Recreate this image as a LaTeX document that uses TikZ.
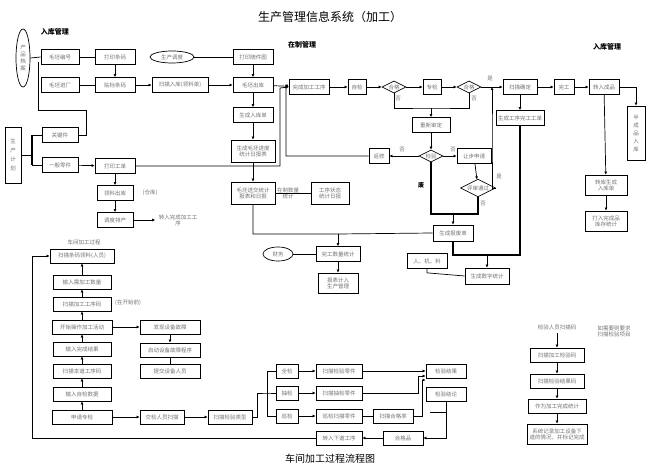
\documentclass[tikz,border=0pt]{standalone}
\usepackage{fontspec}
\setmainfont{Noto Sans CJK SC}
\usetikzlibrary{shapes.geometric,arrows.meta}
\begin{document}
\begin{tikzpicture}[x=1pt,y=-1pt,
 bx/.style={draw,line width=0.7pt,fill=white,font=\fontsize{5.5}{6}\selectfont,text=black!55,minimum height=15pt,inner sep=1pt,align=center},
 el/.style={draw,ellipse,line width=0.7pt,font=\fontsize{5.5}{6}\selectfont,text=black!55,inner sep=1pt,align=center},
 dm/.style={draw,diamond,aspect=2,line width=0.7pt,font=\fontsize{5.5}{6}\selectfont,text=black!55,inner sep=0.5pt},
 lb/.style={font=\fontsize{5.5}{6}\selectfont,text=black!55,align=center},
 hd/.style={font=\fontsize{7}{8}\selectfont\bfseries},
 ar/.style={draw,line width=0.7pt,-{Latex[length=3pt,width=3pt]}},
 ln/.style={draw,line width=0.7pt}]
\useasboundingbox (0,0) rectangle (657,470);
\node[font=\fontsize{12}{13}\selectfont] (title) at (330,17) {生产管理信息系统（加工）};
\node[hd] (h1) at (55,32) {入库管理};
\node[hd] (h2) at (302,45) {在制管理};
\node[hd] (h3) at (607,47) {入库管理};
% top-left
\node[el,minimum width=14pt,minimum height=58pt,font=\fontsize{5.5}{7}\selectfont] (cpda) at (23,58) {产\\品\\档\\案};
\node[bx,minimum width=38pt] (mpbh) at (60,57) {毛坯编号};
\node[bx,minimum width=40pt] (dytm) at (115,57) {打印条码};
\node[el,minimum width=44pt,minimum height=12pt] (scdd) at (172,57) {生产调度};
\node[bx,minimum width=40pt] (dysjt) at (253,57) {打印随件图};
\node[bx,minimum width=38pt] (mpjc) at (60,85) {毛坯进厂};
\node[bx,minimum width=40pt] (tbtm) at (115,85) {贴标条码};
\node[bx,minimum width=56pt] (smrk) at (180,85) {扫描入库(领料单)};
\node[bx,minimum width=40pt] (mpck) at (253,85) {毛坯出库};
\node[bx,minimum width=40pt] (wcjg) at (309,87) {完成加工工序};
\node[bx,minimum width=18pt] (zj) at (357,87) {自检};
\node[dm] (hg1) at (394,87) {合格};
\node[bx,minimum width=18pt] (zhj) at (432,87) {专检};
\node[dm] (hg2) at (469,87) {合格};
\node[bx,minimum width=34pt] (smqd) at (520,87) {扫描确定};
\node[bx,minimum width=20pt] (wg) at (564,87) {完工};
\node[bx,minimum width=30pt] (zrcp) at (604,87) {转入成品};
\node[bx,minimum width=18pt,minimum height=54pt,font=\fontsize{5.5}{8}\selectfont] (bcp) at (636,133) {半\\成\\品\\入\\库};
\node[bx,minimum width=40pt] (scrk) at (253,115) {生成入库单};
\node[bx,minimum width=44pt,minimum height=22pt] (scjd) at (253,151) {生成毛坯进度\\统计日报表};
\node[bx,minimum width=16pt,minimum height=56pt,font=\fontsize{5.5}{9}\selectfont] (scjh) at (13,155) {生\\产\\计\\划};
\node[bx,minimum width=36pt] (gjj) at (60,135) {关键件};
\node[bx,minimum width=36pt] (ybljj) at (60,165) {一般零件};
\node[bx,minimum width=40pt] (dygd) at (115,166) {打印工单};
\node[bx,minimum width=36pt] (llck) at (115,193) {领料出库};
\node[lb] (ck) at (150,193) {(仓库)};
\node[bx,minimum width=36pt] (ddpc) at (115,220) {调度排产};
\node[lb] (zrwc) at (178,220) {转入完成加工工\\序};
\node[bx,minimum width=44pt,minimum height=22pt] (mpsj) at (253,193) {毛坯送交统计\\报表和日报};
\node[lb] (zzsl) at (288,193) {在制数量\\统计};
\node[bx,minimum width=38pt,minimum height=22pt] (gxzt) at (330,193) {工序状态\\统计日报};
% middle right
\node[bx,minimum width=38pt] (cxsd) at (431,125) {重新审定};
\node[bx,minimum width=48pt] (scgx) at (520,118) {生成工序完工工单};
\node[bx,minimum width=20pt] (fx) at (379,156) {返修};
\node[dm] (jy) at (431,156) {检验};
\node[bx,minimum width=34pt] (rbsq) at (474,156) {让步申请};
\node[dm] (psgt) at (478,188) {评审通过};
\node[lb] (s1) at (402,150) {否};
\node[lb] (s2) at (453,150) {否};
\node[lb] (s3) at (499,177) {是};
\node[lb] (s4) at (483,204) {否};
\node[lb] (s5) at (398,99) {否};
\node[lb] (s6) at (474,99) {否};
\node[lb] (s7) at (490,79) {是};
\node[font=\fontsize{6}{7}\selectfont\bfseries] (fei) at (421,185) {废};
\node[bx,minimum width=40pt,minimum height=16pt] (scbf) at (453,233) {生成报废单};
\node[bx,minimum width=40pt] (rjl) at (427,261) {人、机、料};
\node[bx,minimum width=44pt,minimum height=16pt] (scsz) at (487,276) {生成数字统计};
\node[bx,minimum width=42pt,minimum height=20pt] (zrcp2) at (606,185) {转库生成\\入库单};
\node[bx,minimum width=42pt,minimum height=20pt] (drkc) at (606,221) {打入完成品\\库存统计};
\node[el,minimum width=30pt,minimum height=14pt] (cw) at (278,254) {财务};
\node[bx,minimum width=44pt] (wgsl) at (338,254) {完工数量统计};
\node[bx,minimum width=40pt,minimum height=20pt] (bbjr) at (338,283) {报表计入\\生产管理};
% bottom-left
\node[lb] (cjgc) at (84,242) {车间加工过程};
\node[bx,minimum width=64pt,minimum height=14pt] (a1) at (82,256) {扫描条码领料(人员)};
\node[bx,minimum width=58pt,minimum height=14pt] (a2) at (82,282) {输入需加工数量};
\node[bx,minimum width=58pt,minimum height=14pt] (a3) at (82,304) {扫描加工工序码};
\node[lb] (zks) at (128,303) {(在开始前)};
\node[bx,minimum width=60pt,minimum height=14pt] (a4) at (82,327) {开始操作加工活动};
\node[bx,minimum width=60pt,minimum height=14pt] (b1) at (170,327) {发现设备故障};
\node[bx,minimum width=60pt,minimum height=14pt] (b2) at (170,350) {启动设备故障程序};
\node[bx,minimum width=60pt,minimum height=14pt] (b3) at (170,371) {提交设备人员};
\node[bx,minimum width=58pt,minimum height=14pt] (a5) at (82,349) {输入完成结果};
\node[bx,minimum width=58pt,minimum height=14pt] (a6) at (82,371) {扫描本道工序码};
\node[bx,minimum width=58pt,minimum height=14pt] (a7) at (82,394) {输入自检数据};
\node[bx,minimum width=60pt,minimum height=14pt] (a8) at (82,417) {申请专检};
\node[bx,minimum width=44pt,minimum height=14pt] (c1) at (162,417) {交检人员扫描};
\node[bx,minimum width=44pt,minimum height=14pt] (c2) at (230,417) {扫描检验类型};
\node[bx,minimum width=22pt,minimum height=14pt] (q1) at (287,371) {全检};
\node[bx,minimum width=22pt,minimum height=14pt] (q2) at (287,393) {抽检};
\node[bx,minimum width=22pt,minimum height=14pt] (q3) at (287,416) {巡检};
\node[bx,minimum width=46pt,minimum height=14pt] (r1) at (339,371) {扫描检验零件};
\node[bx,minimum width=46pt,minimum height=14pt] (r2) at (339,393) {扫描抽检零件};
\node[bx,minimum width=46pt,minimum height=14pt] (r3) at (339,416) {巡检扫描零件};
\node[bx,minimum width=40pt,minimum height=14pt] (r4) at (393,416) {扫描合格率};
\node[bx,minimum width=40pt,minimum height=14pt] (j1) at (446,371) {检验结果};
\node[bx,minimum width=40pt,minimum height=14pt] (j2) at (446,394) {检验结论};
\node[bx,minimum width=46pt,minimum height=14pt] (zrxd) at (339,438) {转入下道工序};
\node[bx,minimum width=40pt,minimum height=14pt] (hgp) at (403,438) {合格品};
% bottom-right
\node[lb] (jyry) at (557,327) {检验人员扫描码};
\node[lb] (rxy) at (614,331) {如需要则要求\\扫描检验项目};
\node[bx,minimum width=54pt,minimum height=14pt] (d1) at (557,355) {扫描加工检验码};
\node[bx,minimum width=54pt,minimum height=14pt] (d2) at (557,381) {扫描检验结果码};
\node[bx,minimum width=58pt,minimum height=14pt] (d3) at (557,406) {作为加工完成统计};
\node[bx,minimum width=60pt,minimum height=20pt] (d4) at (557,434) {系统记录加工设备下\\道的情况，并标记完成};
\node[font=\fontsize{10}{11}\selectfont] (bt) at (330,459) {车间加工过程流程图};
% ---- connectors top
\path[ln] (cpda.east) -- (mpbh.west);
\path[ln] (mpbh) -- (dytm);
\path[ar] (dytm) -- (tbtm);
\path[ln] (mpjc) -- (tbtm);
\path[ar] (tbtm) -- (smrk);
\path[ar] (smrk) -- (mpck);
\path[ln] (scdd) -- (dysjt);
\path[ar] (dysjt) -- (mpck);
\path[ar] (mpck) -- (wcjg);
\path[ar] (mpck) -- (scrk);
\path[ar] (scrk) -- (scjd);
\path[ar] (scjd) -- (mpsj);
\path[ln] (mpsj) -- (gxzt);
\path[ar] (wcjg) -- (zj);
\path[ar] (zj) -- (hg1);
\path[ar] (hg1) -- (zhj);
\path[ar] (zhj) -- (hg2);
\path[ar] (hg2) -- (smqd);
\path[ar] (smqd) -- (wg);
\path[ar] (wg) -- (zrcp);
\path[ar] (zrcp.east) -| (bcp.north);
\path[ar] (zrcp) -- (zrcp2);
\path[ar] (zrcp2) -- (drkc);
\path[ar] (smqd) -- (scgx);
\path[ln] (hg1.south) |- (431,108) -| (hg2.south);
\path[ar] (431,108) -- (cxsd);
\path[ar] (cxsd) -- (jy);
\path[ar] (jy) -- (fx);
\path[ar] (fx.west) -| (286,85) -- (wcjg.west);
\path[ar] (jy) -- (rbsq);
\path[ar] (rbsq) -- (psgt);
\path[ar] (psgt.east) -| (492,137) -- (492,87);
\path[ln,line width=1.5pt] (jy.south) |- (453,214) -| (psgt.south);
\path[ar] (453,214) -- (scbf);
\path[ln,line width=1.2pt] (scbf.south) |- (487,255) -| (scgx.south);
\path[ar] (487,255) -- (scsz);
\path[ln] (rjl.south) -- ++(0,4) -- (scsz.west);
\path[ln] (mpsj.south) |- (338,234) -- (scbf.west);
\path[ar] (338,234) -- (wgsl);
\path[ln] (cw) -- (wgsl);
\path[ar] (wgsl) -- (bbjr);
% left
\path[ln] (scjh.east) -- (32,155);
\path[ln,line width=1.3pt] (32,135) -- (32,165);
\path[ln] (32,135) -- (gjj.west);
\path[ln] (32,165) -- (ybljj.west);
\path[ln] (gjj.east) -- (86,135) |- (38,110) -- (38,62);
\path[ar] (ybljj) -- (dygd);
\path[ar] (dygd) -- (llck);
\path[ar] (llck) -- (ddpc);
\path[ar] (ddpc) -- (zrwc.west);
\path[ar] (dygd.east) -| (280,88) -- (wcjg.west);
% bottom left
\path[ar] (a2) -- (a1);
\path[ar] (a3) -- (a2);
\path[ar] (a4) -- (a3);
\path[ar] (a5) -- (a4);
\path[ar] (a6) -- (a5);
\path[ar] (a7) -- (a6);
\path[ar] (a8) -- (a7);
\path[ar] (a4) -- (b1);
\path[ar] (b1) -- (b2);
\path[ln] (b2) -- (b3);
\path[ar] (a8) -- (c1);
\path[ar] (c1) -- (c2);
\path[ln] (c2.east) -- (257,417) |- (267,393) |- (q2.west);
\path[ln] (267,393) |- (q1.west);
\path[ln] (267,393) |- (q3.west);
\path[ar] (q1) -- (r1);
\path[ar] (q2) -- (r2);
\path[ar] (q3) -- (r3);
\path[ln] (r3) -- (r4);
\path[ar] (r1.east) -- (j1.west);
\path[ar] (r2.east) -| (418,376) -- (j1.west|-0,376);
\path[ar] (r4.east) -| (422,380) -- (j1.west|-0,380);
\path[ln] (j2.south) -- (446,412) -- (430,412);
\path[ar] (446,412) |- (hgp.east);
\path[ar] (hgp) -- (zrxd);
\path[ar] (zrxd.west) -| (32,256) -- (a1.west);
% bottom right
\path[ar] (jyry) -- (d1);
\path[ar] (d1) -- (d2);
\path[ar] (d2) -- (d3);
\path[ar] (d3) -- (d4);
\end{tikzpicture}
\end{document}
